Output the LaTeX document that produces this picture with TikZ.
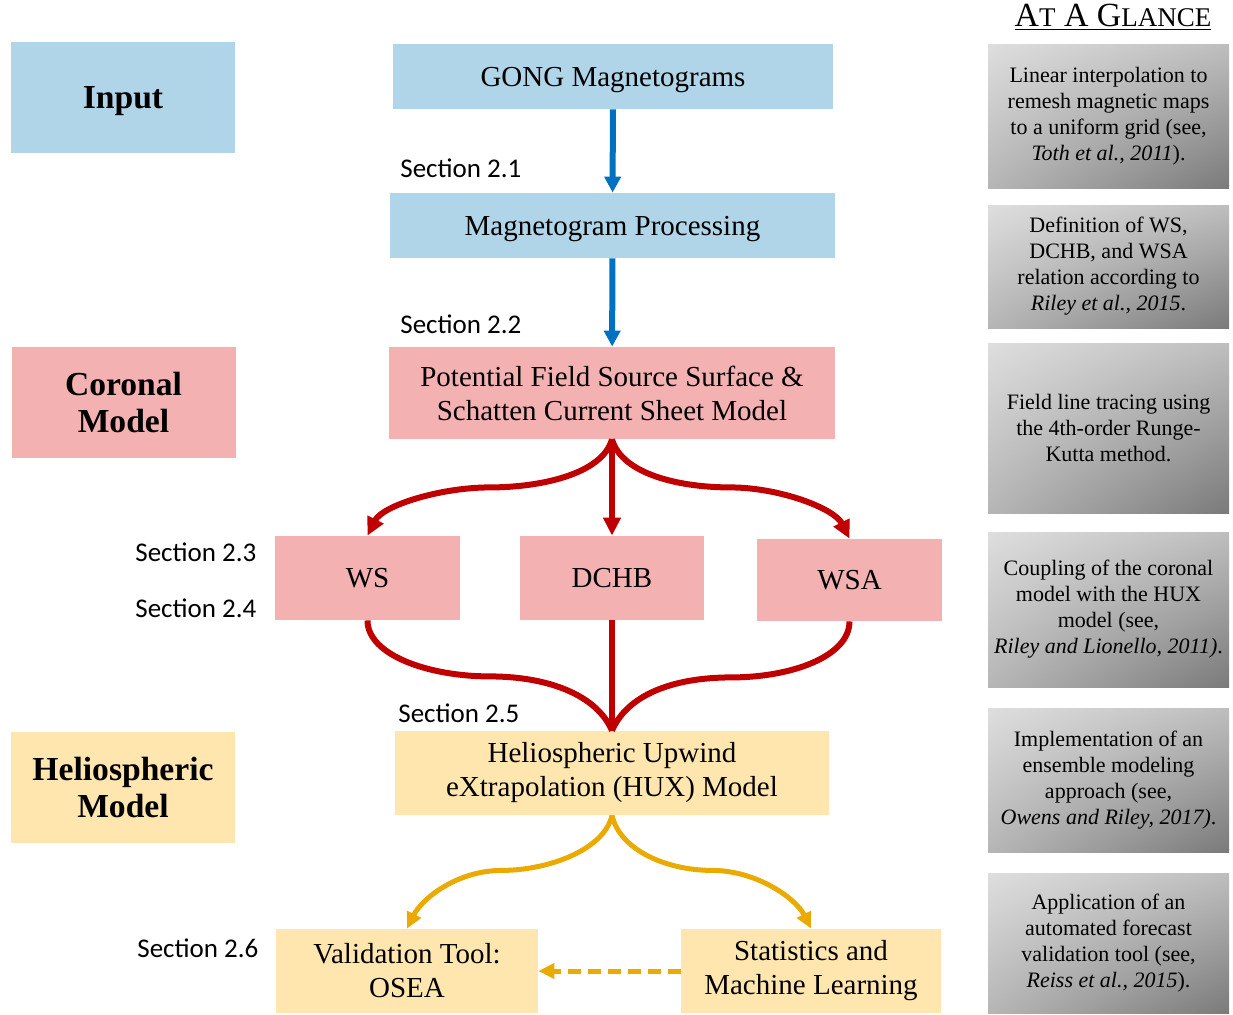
\documentclass[tikz,border=0pt]{standalone}
\usepackage{fontspec}
\setmainfont{Liberation Serif}
\newfontfamily\calibrifont{Carlito}
\usetikzlibrary{arrows.meta,shadings}
\definecolor{inblue}{RGB}{176,213,232}
\definecolor{corpink}{RGB}{244,177,177}
\definecolor{helioyel}{RGB}{255,230,175}
\definecolor{arrblue}{RGB}{0,112,192}
\definecolor{arrred}{RGB}{192,0,0}
\definecolor{arryel}{RGB}{234,170,0}
\definecolor{glanceA}{RGB}{222,222,222}
\definecolor{glanceB}{RGB}{190,190,190}
\definecolor{glanceC}{RGB}{182,182,182}
\definecolor{glanceD}{RGB}{122,122,122}
\tikzset{
  box/.style={inner sep=0pt, align=center, font=\fontsize{14.5}{17}\selectfont},
  stage/.style={inner sep=0pt, align=center, font=\fontsize{16.8}{18.5}\selectfont\bfseries,
    minimum width=112pt, minimum height=55.5pt},
  glance/.style={inner sep=0pt, align=center, font=\fontsize{11}{13}\selectfont,
    minimum width=120.5pt, shade, upper left=glanceA, upper right=glanceB,
    lower left=glanceC, lower right=glanceD},
  seclab/.style={anchor=west, inner sep=0pt, font=\calibrifont\fontsize{13.5}{16}\selectfont},
}
\begin{document}
\begin{tikzpicture}[x=0.5pt, y=-0.5pt]
  \useasboundingbox (0,0) rectangle (1233,1014);
  % left column
  \node[stage, fill=inblue, text depth=0pt] (input) at (123,97.5) {Input};
  \node[stage, fill=corpink] (coronal) at (123.5,402) {Coronal\\Model};
  \node[stage, fill=helioyel] (helio) at (123,787) {Heliospheric\\Model};
  % flow
  \node[box, fill=inblue, text depth=0pt, minimum width=220pt, minimum height=32.5pt] (gong) at (613,76.5) {GONG Magnetograms};
  \node[box, fill=inblue, text depth=0pt, minimum width=222.5pt, minimum height=32.5pt] (proc) at (612.5,225.5) {Magnetogram Processing};
  \node[box, fill=corpink, minimum width=223pt, minimum height=46pt] (pfss) at (612,393) {Potential Field Source Surface \&\\Schatten Current Sheet Model};
  \node[box, fill=corpink, minimum width=92.5pt, minimum height=42pt] (ws) at (367.5,578) {WS};
  \node[box, fill=corpink, minimum width=92pt, minimum height=42pt] (dchb) at (612,578) {DCHB};
  \node[box, fill=corpink, minimum width=92.5pt, minimum height=41pt] (wsa) at (849.5,580) {WSA};
  \node[box, fill=helioyel, minimum width=217pt, minimum height=42pt] (hux) at (612,773) {Heliospheric Upwind\\eXtrapolation (HUX) Model};
  \node[box, fill=helioyel, minimum width=131pt, minimum height=42pt] (valid) at (407,971) {Validation Tool:\\OSEA};
  \node[box, fill=helioyel, minimum width=130pt, minimum height=42pt] (stats) at (811,971) {Statistics and\\Machine Learning};
  % section labels
  \node[seclab] (s21) at (400,168) {Section 2.1};
  \node[seclab] (s22) at (400,324) {Section 2.2};
  \node[seclab] (s23) at (135,552) {Section 2.3};
  \node[seclab] (s24) at (135,608) {Section 2.4};
  \node[seclab] (s25) at (398,713) {Section 2.5};
  \node[seclab] (s26) at (137,948) {Section 2.6};
  % at a glance
  \node[inner sep=0pt, font=\fontsize{16.9}{20}\selectfont] (title) at (1113,17)
    {\underline{A{\fontsize{13.5}{16}\selectfont T} A G{\fontsize{13.5}{16}\selectfont LANCE}}};
  \node[glance, minimum height=72pt] (g1) at (1108.5,116) {Linear interpolation to\\remesh magnetic maps\\to a uniform grid (see,\\\textit{Toth et al., 2011}).};
  \node[glance, minimum height=61.5pt] (g2) at (1108.5,266.5) {Definition of WS,\\DCHB, and WSA\\relation according to\\\textit{Riley et al., 2015}.};
  \node[glance, minimum height=85pt] (g3) at (1108.5,428) {Field line tracing using\\the 4th-order Runge-\\Kutta method.};
  \node[glance, minimum height=77.5pt] (g4) at (1108.5,609.5) {Coupling of the coronal\\model with the HUX\\model (see,\\\textit{Riley and Lionello, 2011)}.};
  \node[glance, minimum height=72pt] (g5) at (1108.5,780) {Implementation of an\\ensemble modeling\\approach (see,\\\textit{Owens and Riley, 2017)}.};
  \node[glance, minimum height=70pt] (g6) at (1108.5,943) {Application of an\\automated forecast\\validation tool (see,\\\textit{Reiss et al., 2015}).};
  \begin{scope}[arrblue, line width=3pt, -{Triangle[length=8pt, width=8pt]}]
    \draw (gong) -- (proc);
    \draw (proc) -- (pfss);
  \end{scope}
  \begin{scope}[arrred, line width=3pt, -{Triangle[length=9pt, width=8.5pt]}]
    \draw (pfss.south) .. controls +(-10,35) and +(50,0) .. ++(-122,48)
      .. controls +(-50,0) and +(15,-30) .. (ws.north);
    \draw (pfss.south) -- (dchb.north);
    \draw (pfss.south) .. controls +(10,35) and +(-50,0) .. ++(118,48)
      .. controls +(50,0) and +(-15,-30) .. (wsa.north);
  \end{scope}
  \begin{scope}[arrred, line width=3pt]
    \draw (ws.south) .. controls +(0,35) and +(-60,0) .. ++(122,56)
      .. controls +(60,0) and +(-15,-35) .. (hux.north);
    \draw (dchb.south) -- (hux.north);
    \draw (wsa.south) .. controls +(0,35) and +(60,0) .. ++(-118,56)
      .. controls +(-60,0) and +(15,-35) .. (hux.north);
  \end{scope}
  \begin{scope}[arryel, line width=2.5pt, -{Triangle[length=8pt, width=7.5pt]}]
    \draw (hux.south) .. controls +(-8,35) and +(45,0) .. ++(-110,55)
      .. controls +(-45,0) and +(15,-30) .. (valid.north);
    \draw (hux.south) .. controls +(8,35) and +(-45,0) .. ++(100,55)
      .. controls +(45,0) and +(-15,-30) .. (stats.north);
    \draw[dash pattern=on 6.5pt off 3.5pt] (stats.west) -- (valid.east);
  \end{scope}
\end{tikzpicture}
\end{document}
